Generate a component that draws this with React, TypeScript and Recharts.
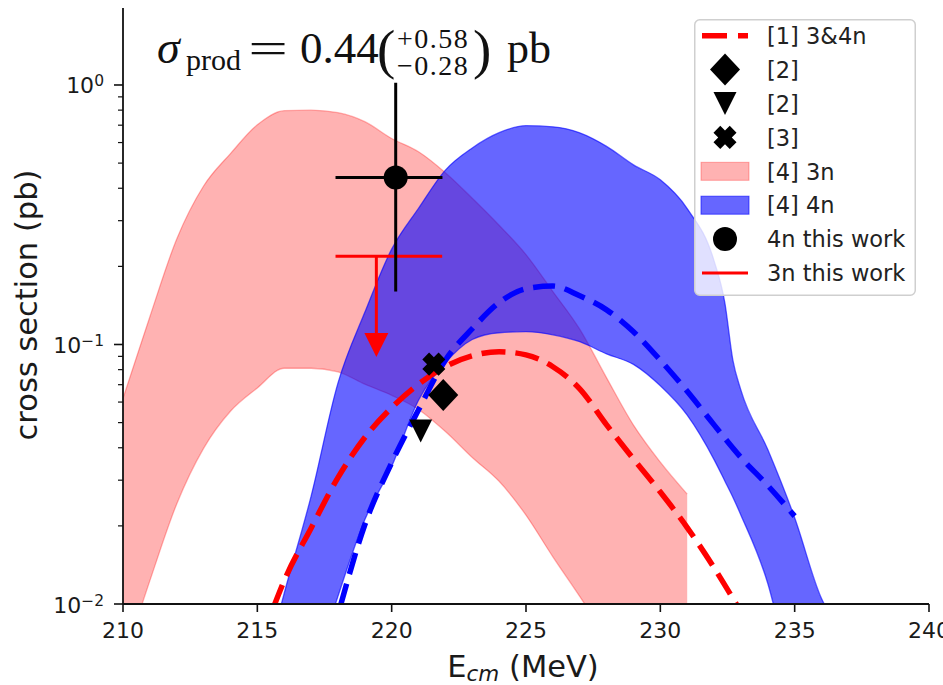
import React from 'react';
import { ComposedChart, Area, Line, Scatter, XAxis, YAxis, ErrorBar, Legend, Label } from 'recharts';

const FONT = "'DejaVu Sans', sans-serif";
const SERIF = "'Liberation Serif', 'DejaVu Serif', serif";

// ---- data ----
const xTicks = [210, 215, 220, 225, 230, 235, 240];
const yTicks = [0.01, 0.02, 0.03, 0.04, 0.05, 0.06, 0.07, 0.08, 0.09, 0.1, 0.2, 0.3, 0.4, 0.5, 0.6, 0.7, 0.8, 0.9, 1];

// [4] 3n band
const band3nX = [210, 211, 212, 213, 214, 215, 216, 217, 218, 219, 220, 221, 222, 223, 224, 225, 226, 227, 228, 229, 230, 231];
const band3nHigh = [0.062, 0.128, 0.255, 0.408, 0.544, 0.702, 0.796, 0.8, 0.782, 0.722, 0.622, 0.553, 0.459, 0.366, 0.288, 0.222, 0.16, 0.1146, 0.0744, 0.0489, 0.0352, 0.0265];
const band3nLow = [0.006, 0.0123, 0.0243, 0.0398, 0.0553, 0.068, 0.081, 0.081, 0.0785, 0.0703, 0.0637, 0.0562, 0.0462, 0.0367, 0.0297, 0.022, 0.0152, 0.0107, 0.0074, 0.0051, 0.0035, 0.0025];

// [4] 4n band
const band4nX = [215.5, 216, 217, 218, 219, 220, 221, 222, 223, 224, 225, 226, 227, 228, 229, 230, 231, 232, 232.4, 232.7, 233, 234, 235, 236, 236.5];
const band4nHigh = [0.007, 0.011, 0.026, 0.071, 0.133, 0.233, 0.335, 0.47, 0.572, 0.655, 0.697, 0.69, 0.654, 0.58, 0.492, 0.431, 0.334, 0.21, 0.145, 0.087, 0.0667, 0.0394, 0.0215, 0.0105, 0.0085];
const band4nLow = [0.0018, 0.0023, 0.005, 0.0107, 0.0211, 0.0339, 0.061, 0.085, 0.1045, 0.111, 0.112, 0.109, 0.1025, 0.092, 0.0838, 0.0693, 0.0534, 0.036, 0.0298, 0.0258, 0.022, 0.012, 0.0045, 0.002, 0.0015];

// [1] 3&4n (red dashed)
const ref1X = [215.6, 216, 217, 218, 219, 220, 221, 222, 223, 224, 225, 226, 227, 228, 229, 230, 231, 232, 232.85];
const ref1Y = [0.0097, 0.0123, 0.0196, 0.0307, 0.0438, 0.0571, 0.0703, 0.0822, 0.0905, 0.0938, 0.0912, 0.0821, 0.0675, 0.049, 0.0362, 0.027, 0.0197, 0.0138, 0.0099];

// [1] 4n (blue dashed)
const ref1bX = [218.1, 219, 220, 221, 222, 223, 224, 225, 226, 227, 228, 229, 230, 231, 232, 233, 234, 235];
const ref1bY = [0.0099, 0.0202, 0.035, 0.056, 0.087, 0.115, 0.145, 0.164, 0.168, 0.154, 0.136, 0.112, 0.087, 0.066, 0.049, 0.0367, 0.0286, 0.0218];

// single points
const ref2aPoint = [{ x: 221.92, y: 0.0639 }];
const ref2bPoint = [{ x: 221.08, y: 0.0464 }];
const ref3Point = [{ x: 221.57, y: 0.084 }];
const this4nPoint = [{ x: 220.15, y: 0.44, ex: [2.24, 1.74], ey: [0.28, 0.58] }];
const this3nLimit = [{ x: 219.43, y: 0.219, ex: [1.52, 2.45], ey: [0.1083, 0] }];
const this3nArrowTip = [{ x: 219.43, y: 0.0895 }];

const legendLabels = ['[1] 3&4n', '[2]', '[2]', '[3]', '[4] 3n', '[4] 4n', '4n this work', '3n this work'];

const band3n = band3nX.map((x, i) => ({ x, y: [band3nLow[i], band3nHigh[i]] }));
const band4n = band4nX.map((x, i) => ({ x, y: [band4nLow[i], band4nHigh[i]] }));
const ref1 = ref1X.map((x, i) => ({ x, y: ref1Y[i] }));
const ref1b = ref1bX.map((x, i) => ({ x, y: ref1bY[i] }));

// ---- marker shapes ----
const DiamondShape = (p: any) => {
  const { cx, cy } = p;
  return <path d={`M${cx},${cy - 16} L${cx + 15},${cy} L${cx},${cy + 16} L${cx - 15},${cy} Z`} fill="#000" />;
};
const TriDownShape = (p: any) => {
  const { cx, cy } = p;
  const h = 11.5;
  return <path d={`M${cx - h},${cy - h} L${cx + h},${cy - h} L${cx},${cy + h} Z`} fill="#000" />;
};
const XShape = (p: any) => {
  const { cx, cy } = p;
  const a = 11.5, t = 4.8, s = Math.SQRT1_2;
  const pts = [[-t, -a], [t, -a], [t, -t], [a, -t], [a, t], [t, t], [t, a], [-t, a], [-t, t], [-a, t], [-a, -t], [-t, -t]];
  const d = pts.map(([px, py], i) => `${i ? 'L' : 'M'}${cx + (px - py) * s},${cy + (px + py) * s}`).join(' ') + ' Z';
  return <path d={d} fill="#000" />;
};
const CircleShape = (p: any) => <circle cx={p.cx} cy={p.cy} r={12} fill="#000" />;
const EmptyShape = () => <g />;
const ArrowHeadShape = (p: any) => {
  const { cx, cy } = p;
  return <path d={`M${cx - 12},${cy - 24} L${cx + 12},${cy - 24} L${cx},${cy} Z`} fill="#ff0000" />;
};

// ---- ticks ----
const XTick = (p: any) => {
  const { x, y, payload } = p;
  return (
    <g>
      <line x1={x} x2={x} y1={y} y2={y + 8} stroke="#111" strokeWidth={1.6} />
      <text x={x} y={y + 34} textAnchor="middle" fontFamily={FONT} fontSize={22} fill="#1a1a1a">{payload.value}</text>
    </g>
  );
};
const YTick = (p: any) => {
  const { x, y, payload } = p;
  const lv = Math.log10(payload.value);
  const exp = Math.round(lv);
  const major = Math.abs(lv - exp) < 1e-6;
  return (
    <g>
      <line x1={x - (major ? 9 : 5)} x2={x} y1={y} y2={y} stroke="#111" strokeWidth={major ? 1.6 : 1.2} />
      {major && (
        <text x={x - 19} y={y + 8.5} textAnchor="end" fontFamily={FONT} fontSize={22} fill="#1a1a1a">
          10<tspan dy={-7} fontSize={15.5}>{exp < 0 ? `\u2212${-exp}` : `${exp}`}</tspan>
        </text>
      )}
    </g>
  );
};

const XLabelContent = (p: any) => {
  const vb = p.viewBox || { x: 123, y: 604, width: 806, height: 81 };
  const cx = vb.x + vb.width / 2 - 3;
  return (
    <text x={cx} y={vb.y + 73} textAnchor="middle" fontFamily={FONT} fontSize={30.5} fill="#1a1a1a" style={{ whiteSpace: 'pre' }}>
      E<tspan fontStyle="italic" fontSize={21.5} dy={4}>cm</tspan><tspan dy={-4}>{' (MeV)'}</tspan>
    </text>
  );
};
const YLabelContent = (p: any) => {
  const vb = p.viewBox || { x: 0, y: 8, width: 123, height: 596 };
  const cx = vb.x + 37;
  const cy = vb.y + vb.height / 2 - 1;
  return (
    <text x={cx} y={cy} transform={`rotate(-90 ${cx} ${cy})`} textAnchor="middle" fontFamily={FONT} fontSize={30.5} fill="#1a1a1a">
      cross section (pb)
    </text>
  );
};

// ---- legend ----
const renderHandle = (i: number, cx: number, cy: number) => {
  switch (i) {
    case 0:
      return <line x1={cx - 23} x2={cx + 23} y1={cy} y2={cy} stroke="#ff0000" strokeWidth={5.5} strokeDasharray="25 11" />;
    case 1:
      return <DiamondShape cx={cx} cy={cy} />;
    case 2:
      return <TriDownShape cx={cx} cy={cy} />;
    case 3:
      return <XShape cx={cx} cy={cy} />;
    case 4:
      return <rect x={cx - 24} y={cy - 9} width={48} height={18} fill="#ff0000" fillOpacity={0.3} stroke="#ff0000" strokeOpacity={0.3} />;
    case 5:
      return <rect x={cx - 24} y={cy - 9} width={48} height={18} fill="#0000ff" fillOpacity={0.6} stroke="#0000ff" strokeOpacity={0.6} />;
    case 6:
      return <CircleShape cx={cx} cy={cy} />;
    default:
      return <line x1={cx - 23} x2={cx + 23} y1={cy} y2={cy} stroke="#ff0000" strokeWidth={3} />;
  }
};
const LegendBox = () => (
  <svg width={222} height={277} style={{ display: 'block' }}>
    <rect x={0.75} y={0.75} width={220.5} height={275.5} rx={5} fill="#fff" fillOpacity={0.8} stroke="#cfcfcf" strokeWidth={1.5} />
    {legendLabels.map((lab, i) => {
      const cy = 16.7 + i * 33.9;
      return (
        <g key={i}>
          {renderHandle(i, 31, cy)}
          <text x={73} y={cy + 8.2} fontFamily={FONT} fontSize={22.5} fill="#222">{lab}</text>
        </g>
      );
    })}
  </svg>
);

const Title = () => (
  <svg width={943} height={100} style={{ position: 'absolute', left: 0, top: 0, pointerEvents: 'none' }}>
    <g fontFamily={SERIF} fill="#111">
      <text x={157} y={63} fontSize={46} fontStyle="italic">σ</text>
      <text x={186} y={70} fontSize={30}>prod</text>
      <text transform="translate(268 63) scale(1.6 1)" textAnchor="middle" fontSize={44}>=</text>
      <text x={300} y={63} fontSize={45}>0.44</text>
      <text x={377} y={68} fontSize={55}>(</text>
      <text x={397} y={48} fontSize={28} letterSpacing={1.5}>+0.58</text>
      <text x={397} y={75} fontSize={28} letterSpacing={1.5}>{'\u22120.28'}</text>
      <text x={473} y={68} fontSize={55}>)</text>
      <text x={507} y={63} fontSize={44}>pb</text>
    </g>
  </svg>
);

export default function App() {
  return (
    <div style={{ position: 'absolute', left: 0, top: 0, width: 943, height: 685, background: '#fff' }}>
      <ComposedChart width={943} height={685} margin={{ top: 8, right: 14, bottom: 0, left: 0 }}>
        <XAxis xAxisId="b" dataKey="x" type="number" domain={[210, 240]} ticks={xTicks} interval={0} allowDataOverflow
          height={81} tickSize={0} tickMargin={0} tickLine={false} tick={<XTick />} axisLine={{ stroke: '#111', strokeWidth: 1.8 }}>
          <Label content={XLabelContent} />
        </XAxis>
        <XAxis xAxisId="t" orientation="top" type="number" domain={[210, 240]} height={0} tick={false} tickLine={false}
          axisLine={{ stroke: '#111', strokeWidth: 1.8 }} />
        <YAxis yAxisId="l" dataKey="y" type="number" scale="log" domain={[0.01, 1.98]} ticks={yTicks} interval={0} allowDataOverflow
          width={123} tickSize={0} tickMargin={0} tickLine={false} tick={<YTick />} axisLine={{ stroke: '#111', strokeWidth: 1.8 }}>
          <Label content={YLabelContent} />
        </YAxis>
        <YAxis yAxisId="r" orientation="right" type="number" domain={[0, 1]} width={0} tick={false} tickLine={false}
          axisLine={{ stroke: '#111', strokeWidth: 1.8 }} />

        <Area xAxisId="b" yAxisId="l" data={band3n} dataKey="y" type="monotone" fill="#ff0000" fillOpacity={0.3}
          stroke="#ff0000" strokeOpacity={0.3} strokeWidth={1.3} isAnimationActive={false} />
        <Area xAxisId="b" yAxisId="l" data={band4n} dataKey="y" type="monotone" fill="#0000ff" fillOpacity={0.6}
          stroke="#0000ff" strokeOpacity={0.6} strokeWidth={1.3} isAnimationActive={false} />
        <Line xAxisId="b" yAxisId="l" data={ref1} dataKey="y" type="monotone" stroke="#ff0000" strokeWidth={5.5}
          strokeDasharray="24 10" dot={false} isAnimationActive={false} />
        <Line xAxisId="b" yAxisId="l" data={ref1b} dataKey="y" type="monotone" stroke="#0000ff" strokeWidth={5.5}
          strokeDasharray="22 10" dot={false} isAnimationActive={false} />

        <Scatter xAxisId="b" yAxisId="l" data={ref2aPoint} dataKey="y" shape={DiamondShape} isAnimationActive={false} />
        <Scatter xAxisId="b" yAxisId="l" data={ref2bPoint} dataKey="y" shape={TriDownShape} isAnimationActive={false} />
        <Scatter xAxisId="b" yAxisId="l" data={ref3Point} dataKey="y" shape={XShape} isAnimationActive={false} />
        <Scatter xAxisId="b" yAxisId="l" data={this3nLimit} dataKey="y" shape={EmptyShape} isAnimationActive={false}>
          <ErrorBar dataKey="ex" direction="x" width={0} stroke="#ff0000" strokeWidth={3} />
          <ErrorBar dataKey="ey" direction="y" width={0} stroke="#ff0000" strokeWidth={3} />
        </Scatter>
        <Scatter xAxisId="b" yAxisId="l" data={this3nArrowTip} dataKey="y" shape={ArrowHeadShape} isAnimationActive={false} />
        <Scatter xAxisId="b" yAxisId="l" data={this4nPoint} dataKey="y" shape={CircleShape} isAnimationActive={false}>
          <ErrorBar dataKey="ex" direction="x" width={0} stroke="#000" strokeWidth={3} />
          <ErrorBar dataKey="ey" direction="y" width={0} stroke="#000" strokeWidth={3} />
        </Scatter>

        <Legend content={() => <LegendBox />} layout="horizontal" verticalAlign="middle" align="center"
          wrapperStyle={{ left: 694, top: 19, width: 222, height: 277 }} />
      </ComposedChart>
      <Title />
    </div>
  );
}
